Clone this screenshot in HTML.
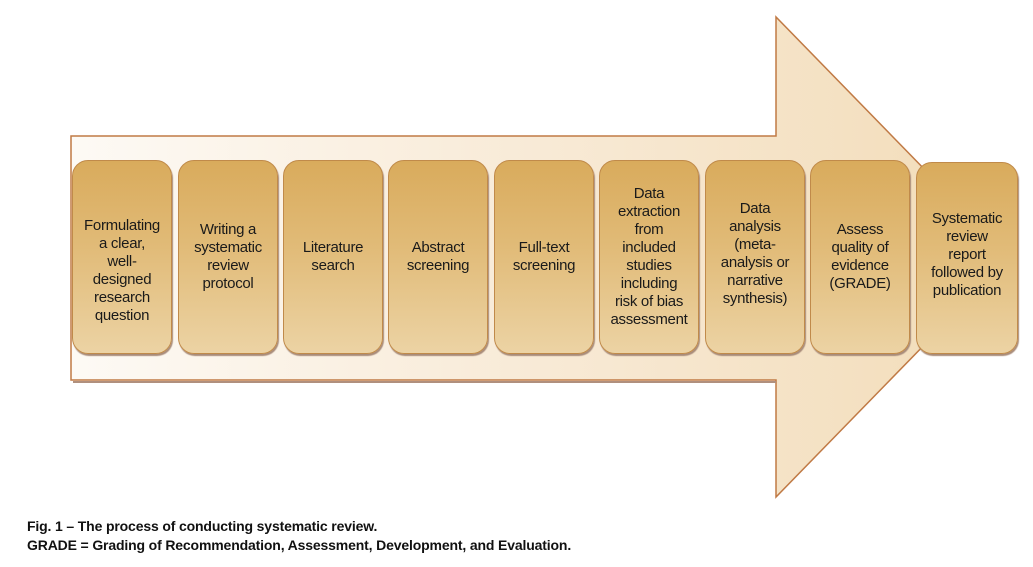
<!DOCTYPE html>
<html><head><meta charset="utf-8"><style>
html,body{margin:0;padding:0;background:#fff;width:1033px;height:567px;overflow:hidden;position:relative;font-family:"Liberation Sans",sans-serif}
.b{position:absolute;top:160px;height:194px;width:100px;border:1px solid #c08a4a;border-radius:16px;box-sizing:border-box;
background:linear-gradient(#d9ab5c 0%,#e1bb78 45%,#ecd3a4 100%);box-shadow:1px 2px 1px #a98c7a;
display:flex;align-items:center;justify-content:center;text-align:center;font-size:15px;line-height:18px;color:#1a1a1a;padding:0 1px;white-space:nowrap;letter-spacing:-0.3px}
.cap{position:absolute;left:27px;font-family:"Liberation Sans Narrow","Liberation Sans",sans-serif;font-weight:bold;font-size:14px;color:#111;letter-spacing:-0.15px;white-space:nowrap}
</style></head><body>
<svg width="1033" height="567" style="position:absolute;left:0;top:0">
<defs><linearGradient id="g" x1="0" y1="0" x2="1" y2="0"><stop offset="0" stop-color="#fdfaf5"/><stop offset="0.5" stop-color="#f8ead6"/><stop offset="1" stop-color="#f2dcb8"/></linearGradient></defs>
<polygon points="71,136 776,136 776,17 1010,257 776,497 776,380 71,380" fill="url(#g)" stroke="#c07a45" stroke-width="1.5"/>
<line x1="73" y1="382" x2="776" y2="382" stroke="#b0907e" stroke-width="2"/>
</svg>
<div class="b" style="left:72px;padding-top:28px">Formulating<br>a clear,<br>well-<br>designed<br>research<br>question</div>
<div class="b" style="left:178px">Writing a<br>systematic<br>review<br>protocol</div>
<div class="b" style="left:283px">Literature<br>search</div>
<div class="b" style="left:388px">Abstract<br>screening</div>
<div class="b" style="left:494px">Full-text<br>screening</div>
<div class="b" style="left:599px">Data<br>extraction<br>from<br>included<br>studies<br>including<br>risk of bias<br>assessment</div>
<div class="b" style="left:705px;padding-bottom:6px">Data<br>analysis<br>(meta-<br>analysis or<br>narrative<br>synthesis)</div>
<div class="b" style="left:810px">Assess<br>quality of<br>evidence<br>(GRADE)</div>
<div class="b" style="left:916px;top:162px;height:192px;width:102px;padding-bottom:6px">Systematic<br>review<br>report<br>followed by<br>publication</div>
<div class="cap" style="top:518px">Fig. 1 – The process of conducting systematic review.</div>
<div class="cap" style="top:537px">GRADE = Grading of Recommendation, Assessment, Development, and Evaluation.</div>
</body></html>
